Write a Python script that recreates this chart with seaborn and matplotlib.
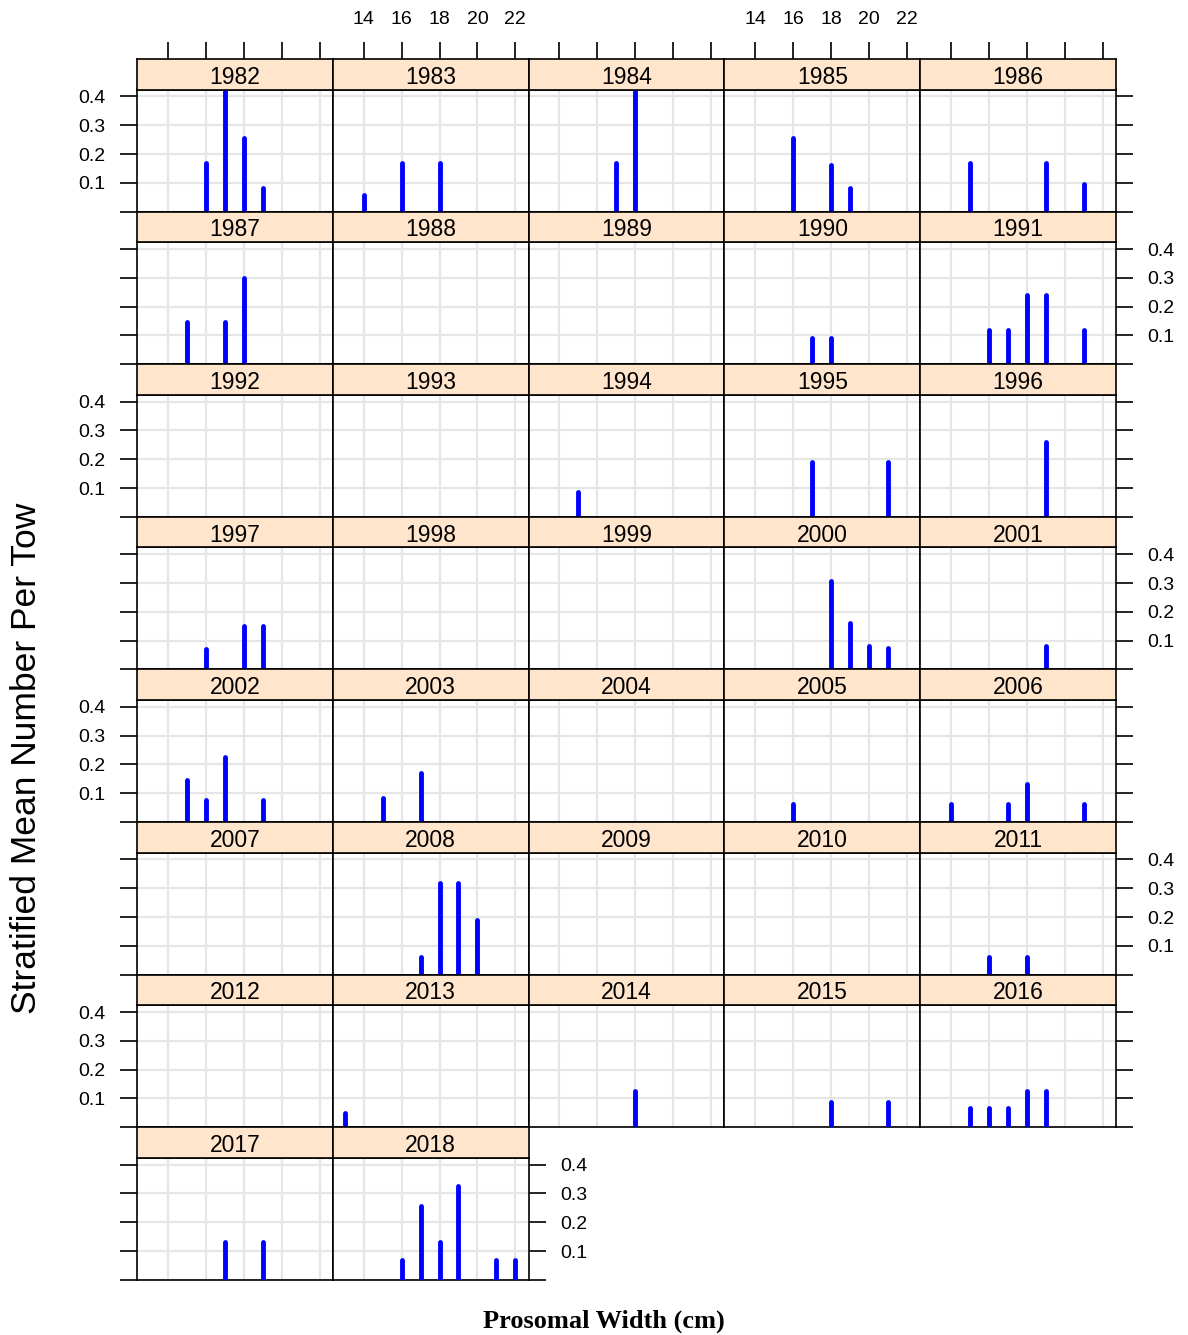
import pandas as pd
import matplotlib
matplotlib.use("Agg")
import matplotlib.pyplot as plt
import seaborn as sns

years = list(range(1982, 2019))
x_ticks = [14, 16, 18, 20, 22]
y_ticks = [0.0, 0.1, 0.2, 0.3, 0.4]
y_tick_labels = ["", "0.1", "0.2", "0.3", "0.4"]

# one entry per stick: survey year, prosomal width (cm), stratified mean per tow
bar_year = [1982, 1982, 1982, 1982,
            1983, 1983, 1983,
            1984, 1984,
            1985, 1985, 1985,
            1986, 1986, 1986,
            1987, 1987, 1987,
            1990, 1990,
            1991, 1991, 1991, 1991, 1991,
            1994,
            1995, 1995,
            1996,
            1997, 1997, 1997,
            2000, 2000, 2000, 2000,
            2001,
            2002, 2002, 2002, 2002,
            2003, 2003,
            2005,
            2006, 2006, 2006, 2006,
            2008, 2008, 2008, 2008,
            2011, 2011,
            2013,
            2014,
            2015, 2015,
            2016, 2016, 2016, 2016, 2016,
            2017, 2017,
            2018, 2018, 2018, 2018, 2018, 2018]
bar_width = [16, 17, 18, 19,
             14, 16, 18,
             17, 18,
             16, 18, 19,
             15, 19, 21,
             15, 17, 18,
             17, 18,
             16, 17, 18, 19, 21,
             15,
             17, 21,
             19,
             16, 18, 19,
             18, 19, 20, 21,
             19,
             15, 16, 17, 19,
             15, 17,
             16,
             14, 17, 18, 21,
             17, 18, 19, 20,
             16, 18,
             13,
             18,
             18, 21,
             15, 16, 17, 18, 19,
             17, 19,
             16, 17, 18, 19, 21, 22]
bar_value = [0.17, 0.43, 0.255, 0.083,
             0.057, 0.17, 0.17,
             0.17, 0.43,
             0.255, 0.163, 0.083,
             0.17, 0.17, 0.095,
             0.148, 0.148, 0.30,
             0.09, 0.09,
             0.12, 0.12, 0.24, 0.24, 0.12,
             0.087,
             0.19, 0.19,
             0.26,
             0.07, 0.152, 0.152,
             0.307, 0.16, 0.08, 0.073,
             0.08,
             0.147, 0.077, 0.225, 0.077,
             0.085, 0.17,
             0.063,
             0.063, 0.063, 0.133, 0.063,
             0.062, 0.318, 0.318, 0.19,
             0.062, 0.062,
             0.05,
             0.127,
             0.088, 0.088,
             0.065, 0.065, 0.065, 0.127, 0.127,
             0.132, 0.132,
             0.07, 0.255, 0.132, 0.325, 0.07, 0.07]

df = pd.DataFrame({"year": bar_year, "width": bar_width, "mean": bar_value})

sns.set_theme(style="white")
plt.rcParams["font.family"] = ["Liberation Sans", "DejaVu Sans"]

W, H = 1188, 1335
xlim = (12.37, 22.7)
ylim = (0.0, 0.424)

g = sns.FacetGrid(df, col="year", col_order=years, col_wrap=5, height=2,
                  aspect=1, despine=False, xlim=xlim, ylim=ylim)


def sticks(x, y, color=None, **kws):
    plt.gca().vlines(x, 0, y, colors="blue", linewidth=3.5,
                     capstyle="round", zorder=3)


g.map(sticks, "width", "mean")
g.set_titles("")
g.set_axis_labels("", "")
fig = g.figure
fig.set_size_inches(W / 100, H / 100)

col_w = 195.8
row_h = 152.6
strip_h = 30.5
tick_kw = dict(direction="out", length=12, width=1.2, colors="black",
               labelcolor="black", labelsize=14, pad=10.5)

for i, ax in enumerate(g.axes.flat):
    r, c = divmod(i, 5)
    left = 137 + c * col_w
    strip_top = 59 + r * row_h
    panel_top = strip_top + strip_h
    panel_bot = strip_top + row_h
    ax.set_position([left / W, 1 - panel_bot / H, col_w / W,
                     (panel_bot - panel_top) / H])
    ax.set_facecolor("white")
    ax.set_xticks(x_ticks)
    ax.set_yticks(y_ticks)
    ax.set_yticklabels(y_tick_labels)
    ax.set_xlim(xlim)
    ax.set_ylim(ylim)
    ax.grid(True, color="#e6e6e6", linewidth=1.6)
    ax.set_axisbelow(True)
    for sp in ax.spines.values():
        sp.set_color("black")
        sp.set_linewidth(1.2)
    ax.tick_params(axis="x", bottom=False, top=False,
                   labelbottom=False, labeltop=False)
    on_left = c == 0
    on_right = c == 4 or i == len(years) - 1
    ax.tick_params(axis="y", left=on_left, right=on_right,
                   labelleft=on_left and r % 2 == 0,
                   labelright=on_right and r % 2 == 1, **tick_kw)

    # lattice style strip above each panel
    sax = fig.add_axes([left / W, 1 - panel_top / H, col_w / W, strip_h / H])
    sax.set_facecolor("#ffe5cc")
    sax.set_xlim(xlim)
    sax.set_ylim(0, 1)
    sax.set_yticks([])
    sax.set_xticks(x_ticks)
    for sp in sax.spines.values():
        sp.set_color("black")
        sp.set_linewidth(1.2)
    if r == 0:
        sax.tick_params(axis="x", bottom=False, labelbottom=False, top=True,
                        labeltop=c in (1, 3), **tick_kw)
    else:
        sax.tick_params(axis="x", bottom=False, labelbottom=False,
                        top=False, labeltop=False)
    sax.text(0.5, 0.4, str(years[i]), transform=sax.transAxes,
             ha="center", va="center", fontsize=16.5, color="black")

fig.text(27 / W, 1 - 758 / H, "Stratified Mean Number Per Tow", rotation=90,
         ha="center", va="center", fontsize=25.5, color="black")
fig.text(604 / W, 1 - 1321 / H, "Prosomal Width (cm)", ha="center",
         va="center", fontsize=19, fontweight="bold", color="black",
         family=["Liberation Serif", "DejaVu Serif"])

fig.savefig("out.png", dpi=100, facecolor="white")
